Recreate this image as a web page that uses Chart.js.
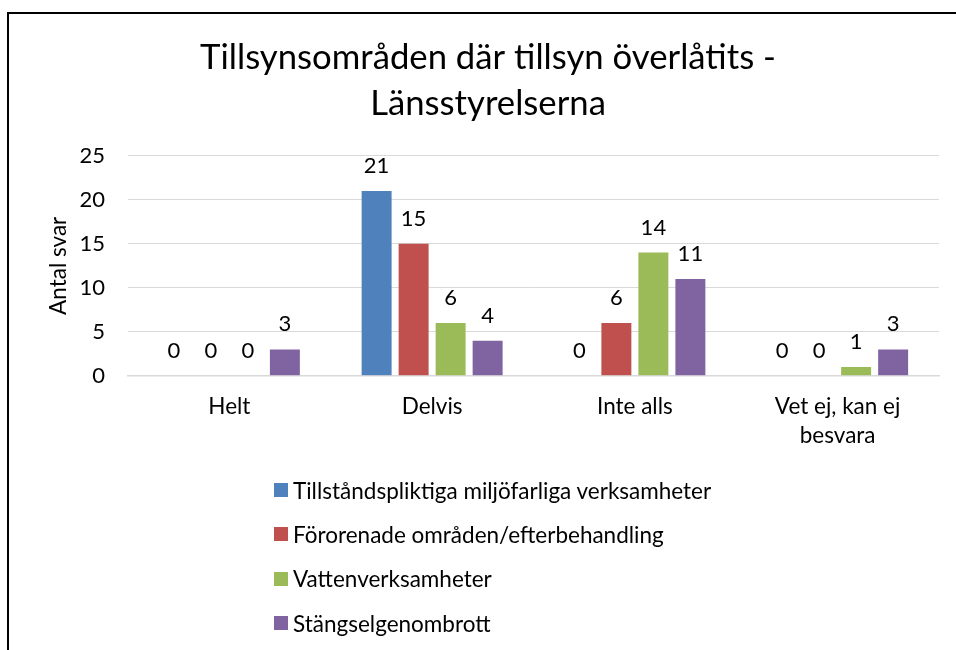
<!DOCTYPE html>
<html>
<head>
<meta charset="utf-8">
<script src="https://cdn.jsdelivr.net/npm/chart.js@4.4.0/dist/chart.umd.min.js"></script>
<style>
    html, body { margin: 0; padding: 0; background: #fff; overflow: hidden; }
    #wrap { position: relative; width: 956px; height: 650px; overflow: hidden; }
    #frame { position: absolute; left: 7px; top: 12px; width: 1000px; height: 700px; border: 2px solid #000; box-sizing: border-box; }
    #chart { position: absolute; left: 0; top: 0; }
    #legend { position: absolute; left: 274px; top: 468px; margin: 0; padding: 0; list-style: none; font-family: Lato, sans-serif; font-size: 22.5px; color: #000; }
    #legend li { height: 44.3px; display: flex; align-items: center; }
    #legend span.box { width: 14px; height: 14px; margin-right: 5px; display: inline-block; }
</style>
</head>
<body>
<div id="wrap">
    <div id="frame"></div>
    <canvas id="chart" width="956" height="650"></canvas>
    <ul id="legend"></ul>
</div>
<script>
const categories = ['Helt', 'Delvis', 'Inte alls', ['Vet ej, kan ej', 'besvara']];
const seriesNames = [
    'Tillståndspliktiga miljöfarliga verksamheter',
    'Förorenade områden/efterbehandling',
    'Vattenverksamheter',
    'Stängselgenombrott'
];
const tillstandspliktiga = [0, 21, 0, 0];
const fororenade = [0, 15, 6, 0];
const vatten = [0, 6, 14, 1];
const stangsel = [3, 4, 11, 3];
const seriesColors = ['#4F81BD', '#C0504D', '#9BBB59', '#8064A2'];
const yTicks = [0, 5, 10, 15, 20, 25];

const FONT = 'Lato';

// draw the value above every bar
const valueLabels = {
    id: 'valueLabels',
    afterDatasetsDraw(chart) {
        const ctx = chart.ctx;
        ctx.save();
        ctx.font = '22px ' + FONT;
        ctx.fillStyle = '#000';
        ctx.textAlign = 'center';
        ctx.textBaseline = 'alphabetic';
        chart.data.datasets.forEach((ds, i) => {
            chart.getDatasetMeta(i).data.forEach((bar, j) => {
                ctx.fillText(String(ds.data[j]), bar.x, bar.y - 18);
            });
        });
        ctx.restore();
    }
};

const allSeries = [tillstandspliktiga, fororenade, vatten, stangsel];

const chart = new Chart(document.getElementById('chart'), {
    type: 'bar',
    data: {
        labels: categories,
        datasets: allSeries.map((values, i) => ({
            label: seriesNames[i],
            data: values,
            backgroundColor: seriesColors[i],
            borderWidth: 0,
            barPercentage: 0.81,
            categoryPercentage: 0.73
        }))
    },
    options: {
        responsive: false,
        animation: false,
        layout: { padding: { left: 37, right: 17, top: 0, bottom: 183 } },
        plugins: {
            legend: { display: false },
            tooltip: { enabled: false },
            title: {
                display: true,
                text: ['Tillsynsområden där tillsyn överlåtits -', 'Länsstyrelserna'],
                color: '#000',
                font: { family: FONT, size: 34.7, weight: 'normal', lineHeight: 1.33 },
                padding: { top: 35, bottom: 28.5 }
            }
        },
        scales: {
            x: {
                grid: { display: false, drawTicks: false },
                border: { color: '#d9d9d9', width: 1.5 },
                ticks: { color: '#000', padding: 17, font: { family: FONT, size: 22.5, lineHeight: 1.27 } }
            },
            y: {
                min: 0,
                max: 25,
                afterFit(scale) { scale.width = 91; },
                afterBuildTicks(scale) { scale.ticks = yTicks.map(v => ({ value: v })); },
                grid: { color: '#d9d9d9', lineWidth: 1, drawTicks: false },
                border: { display: false },
                ticks: { color: '#000', padding: 23, font: { family: FONT, size: 22 } },
                title: {
                    display: true,
                    text: 'Antal svar',
                    color: '#000',
                    font: { family: FONT, size: 22.5, lineHeight: 1.2 },
                    padding: { top: 8, bottom: 0 }
                }
            }
        }
    },
    plugins: [valueLabels]
});

// legend as a vertical list under the chart
const legendEl = document.getElementById('legend');
chart.data.datasets.forEach(ds => {
    const li = document.createElement('li');
    li.innerHTML = `<span class="box" style="background:${ds.backgroundColor}"></span>${ds.label}`;
    legendEl.appendChild(li);
});
</script>
</body>
</html>
